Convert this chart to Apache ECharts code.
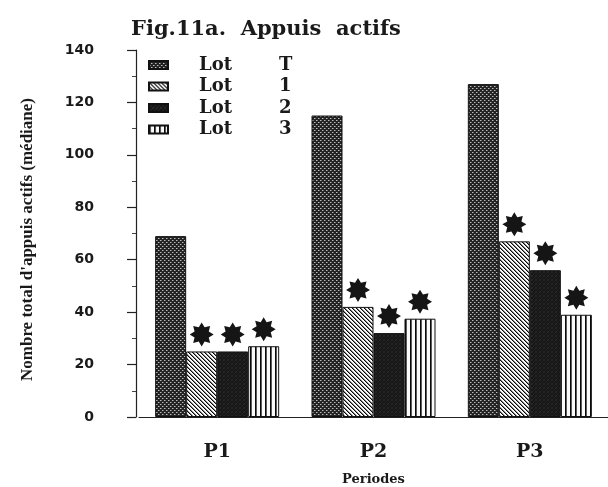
<!DOCTYPE html>
<html><head><meta charset="utf-8">
<script src="https://cdn.jsdelivr.net/npm/echarts@6/dist/echarts.min.js"></script>
<style>html,body{margin:0;padding:0;background:#fff}#c{width:608px;height:487px}</style>
</head><body><div id="c"></div>
<script>
var categories = ['P1', 'P2', 'P3'];
var seriesNames = ['Lot T', 'Lot 1', 'Lot 2', 'Lot 3'];
var lotT = [69, 115, 127];
var lot1 = [25, 42, 67];
var lot2 = [25, 32, 56];
var lot3 = [27, 37.5, 39];
var starred = [false, true, true, true];
var yTicks = [0, 20, 40, 60, 80, 100, 120, 140];

function makePattern(size, fn) {
  var c = document.createElement('canvas');
  c.width = size; c.height = size;
  var ctx = c.getContext('2d');
  var img = ctx.createImageData(size, size);
  for (var y = 0; y < size; y++) for (var x = 0; x < size; x++) {
    var v = fn(x, y), i = (y * size + x) * 4;
    img.data[i] = v; img.data[i+1] = v; img.data[i+2] = v; img.data[i+3] = 255;
  }
  ctx.putImageData(img, 0, 0);
  return {image: c, repeat: 'repeat'};
}
var patT = makePattern(4, function (x, y) {
  if ((x === 0 && y === 0) || (x === 2 && y === 2)) return 190;
  if ((x === 1 && y === 0) || (x === 3 && y === 2)) return 110;
  return 35;
});
var pat1 = makePattern(4, function (x, y) {
  var d = ((x - y) % 4 + 4) % 4;
  return d === 0 ? 10 : (d === 1 ? 130 : 250);
});
var pat2 = makePattern(4, function (x, y) { return (x + y) % 3 === 0 ? 38 : 22; });
var pat3 = makePattern(5, function (x, y) { return x === 0 ? 10 : (x === 1 ? 90 : 250); });
var patterns = [patT, pat1, pat2, pat3];
var dataSets = [lotT, lot1, lot2, lot3];

function starPath(n, R, r) {
  var p = [];
  for (var i = 0; i < 2 * n; i++) {
    var a = Math.PI * i / n - Math.PI / 2;
    var rr = i % 2 === 0 ? R : r;
    p.push((i === 0 ? 'M' : 'L') + (50 + rr * Math.cos(a)).toFixed(2) + ',' + (50 + rr * Math.sin(a)).toFixed(2));
  }
  return 'path://' + p.join(' ') + 'Z';
}
var STAR = starPath(8, 50, 32);

var series = seriesNames.map(function (name, k) {
  var s = {
    name: name, type: 'bar', data: dataSets[k], barWidth: 31, barGap: '0%',
    itemStyle: {color: patterns[k], borderColor: '#111', borderWidth: 1},
    emphasis: {disabled: true}
  };
  if (starred[k]) {
    s.markPoint = {
      symbol: STAR, symbolSize: 24, symbolOffset: [0, -17], silent: true,
      itemStyle: {color: '#151515'}, label: {show: false},
      data: dataSets[k].map(function (v, i) { return {coord: [i, v]}; })
    };
  }
  return s;
});

var chart = echarts.init(document.getElementById('c'), null, {renderer: 'canvas'});
chart.setOption({
  animation: false,
  backgroundColor: '#fff',
  title: {
    text: 'Fig.11a.  Appuis  actifs', left: 126, top: 14,
    textStyle: {fontFamily: 'DejaVu Serif', fontWeight: 'bold', fontSize: 21, color: '#1a1a1a'}
  },
  legend: {
    orient: 'vertical', left: 143, top: 51, itemWidth: 19, itemHeight: 8, itemGap: 3.5,
    icon: 'rect', selectedMode: false,
    formatter: function (n) { var p = n.split(' '); return '{s|}{a|' + p[0] + '}{b|' + p[1] + '}'; },
    textStyle: {
      rich: {
        s: {width: 26},
        a: {width: 80, fontFamily: 'DejaVu Serif', fontWeight: 'bold', fontSize: 18, color: '#1a1a1a'},
        b: {fontFamily: 'DejaVu Serif', fontWeight: 'bold', fontSize: 18, color: '#1a1a1a'}
      }
    }
  },
  grid: {left: 139, right: 0, top: 50, bottom: 70, outerBoundsMode: 'none', containLabel: false},
  xAxis: {
    type: 'category', data: categories,
    name: 'Periodes', nameLocation: 'middle', nameGap: 56,
    nameTextStyle: {fontFamily: 'DejaVu Serif', fontWeight: 'bold', fontSize: 13, color: '#1a1a1a'},
    axisLine: {lineStyle: {color: '#222', width: 1.2}},
    axisTick: {alignWithLabel: true, length: 10, lineStyle: {color: '#222', width: 1.2}},
    axisLabel: {margin: 26, fontFamily: 'DejaVu Serif', fontWeight: 'bold', fontSize: 19, color: '#1a1a1a'}
  },
  yAxis: {
    type: 'value', min: yTicks[0], max: yTicks[yTicks.length - 1], interval: 20, offset: 3,
    name: "Nombre total d'appuis actifs (médiane)", nameLocation: 'middle', nameGap: 100,
    nameTextStyle: {fontFamily: 'Liberation Serif', fontWeight: 'bold', fontSize: 17, color: '#1a1a1a', padding: [0, 12, 0, 0]},
    axisLine: {show: true, lineStyle: {color: '#222', width: 1.2}},
    axisTick: {show: true, length: 9, lineStyle: {color: '#222', width: 1.2}},
    minorTick: {show: true, splitNumber: 2, length: 4, lineStyle: {color: '#444'}},
    splitLine: {show: false},
    axisLabel: {margin: 42, fontFamily: 'DejaVu Sans', fontWeight: 'bold', fontSize: 14, color: '#1a1a1a'}
  },
  series: series
});
</script></body></html>
